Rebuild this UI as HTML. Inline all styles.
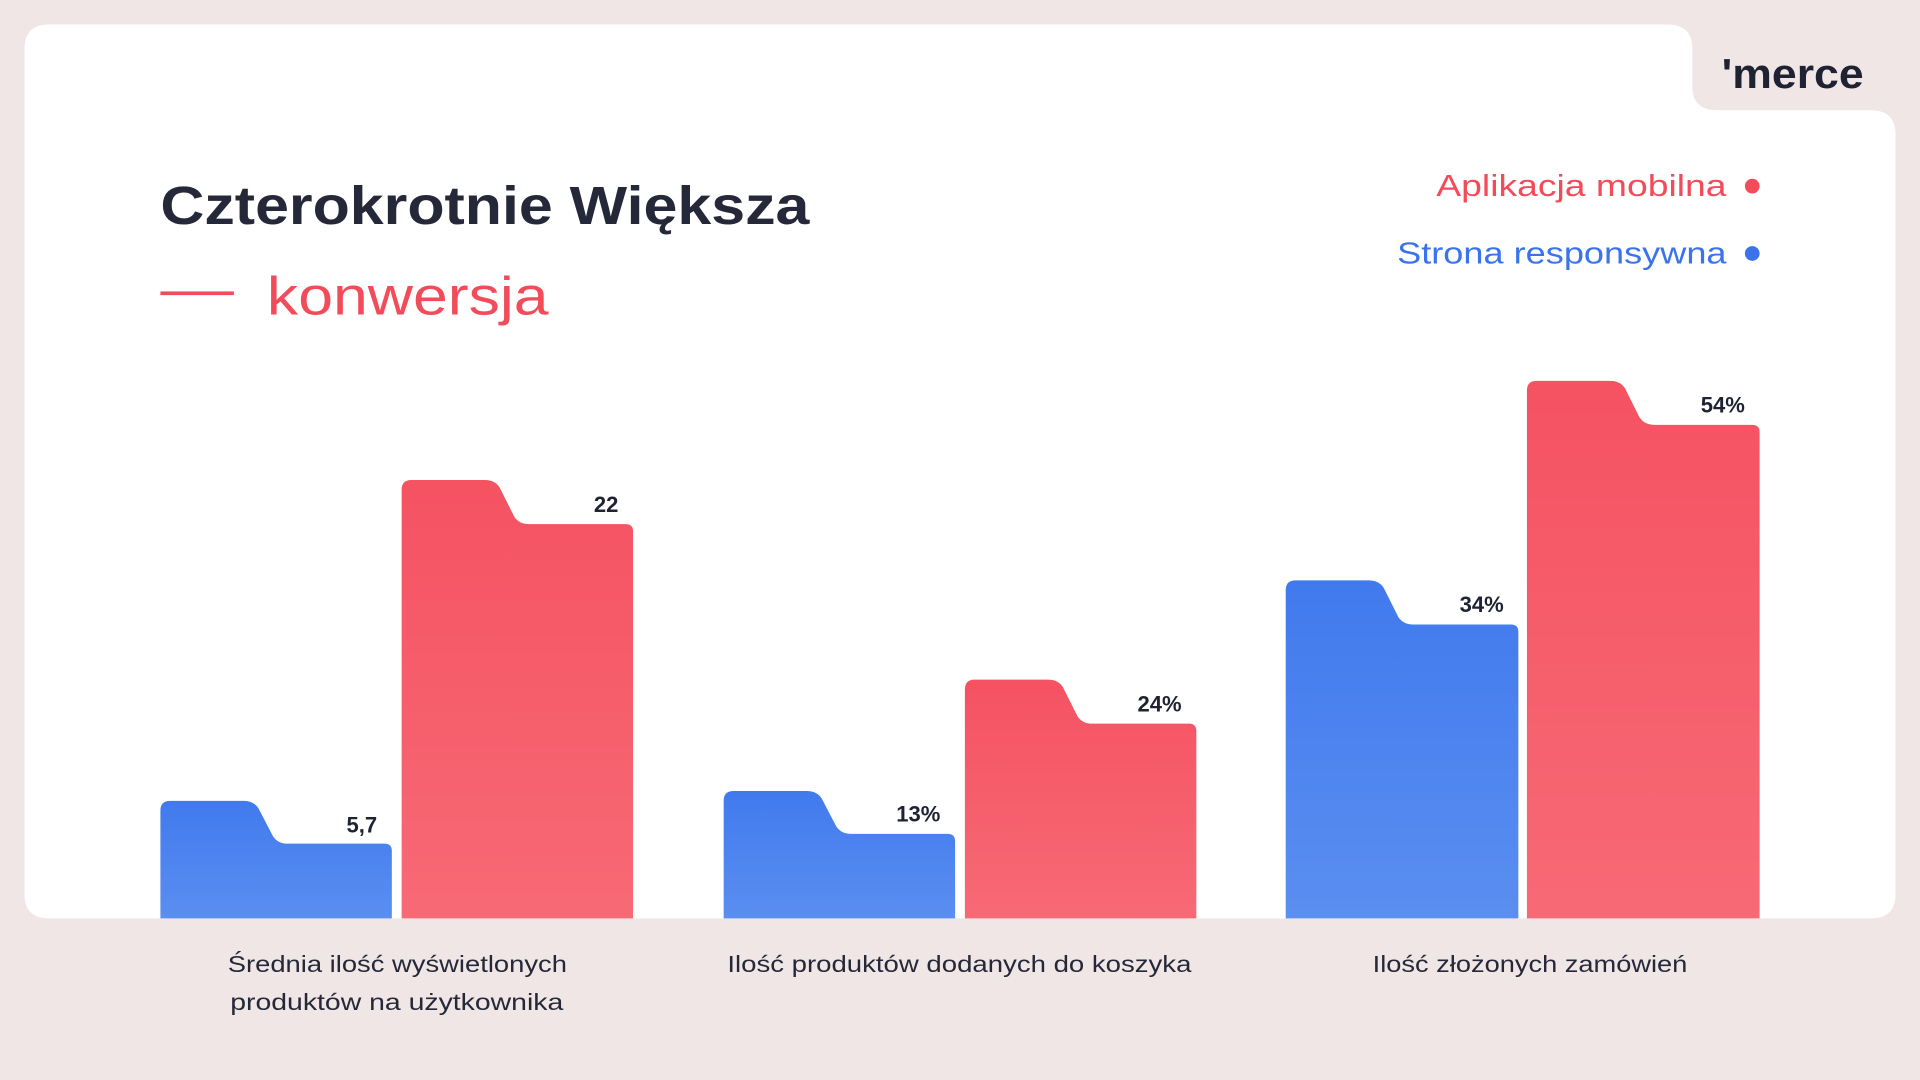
<!DOCTYPE html>
<html><head><meta charset="utf-8"><style>
html,body{margin:0;padding:0;background:#f1e6e6;}
svg{display:block}
text{font-family:"Liberation Sans","DejaVu Sans",sans-serif}
</style></head><body>
<svg width="1920" height="1080" viewBox="0 0 1568 882" xmlns="http://www.w3.org/2000/svg">
<defs>
<linearGradient id="r" x1="0" y1="0" x2="0" y2="1"><stop offset="0" stop-color="#f55262"/><stop offset="1" stop-color="#f76a75"/></linearGradient>
<linearGradient id="b" x1="0" y1="0" x2="0" y2="1"><stop offset="0" stop-color="#417aee"/><stop offset="1" stop-color="#5a8ef0"/></linearGradient>
</defs>
<rect width="1568" height="882" fill="#f1e6e6"/>
<path d="M40,20 H1362 Q1382,20 1382,40 V70 Q1382,90 1402,90 H1528 Q1548,90 1548,110 V730 Q1548,750 1528,750 H40 Q20,750 20,730 V40 Q20,20 40,20 Z" fill="#fff"/>
<text x="1406" y="72" font-size="34" font-weight="bold" fill="#1f2233" textLength="116" lengthAdjust="spacingAndGlyphs">'merce</text>
<text x="131" y="183" font-size="44" font-weight="bold" fill="#252838" textLength="530" lengthAdjust="spacingAndGlyphs">Czterokrotnie Większa</text>
<rect x="131" y="238" width="60" height="3" fill="#f24c5b"/>
<text x="218" y="257" font-size="44" fill="#f24c5b" textLength="230" lengthAdjust="spacingAndGlyphs">konwersja</text>
<text x="1173" y="160" font-size="25" fill="#f24c5b" textLength="237" lengthAdjust="spacingAndGlyphs">Aplikacja mobilna</text>
<circle cx="1431" cy="152" r="6" fill="#f24c5b"/>
<text x="1141" y="215" font-size="25" fill="#3a73ec" textLength="269" lengthAdjust="spacingAndGlyphs">Strona responsywna</text>
<circle cx="1431" cy="207" r="6" fill="#3a73ec"/>
<path d="M131,750 V662 Q131,654 139,654 H199 Q207,654 211,660 L223,683 Q227,689 235,689 H314 Q320,689 320,695 V750 Z" fill="url(#b)"/>
<path d="M328,750 V400 Q328,392 336,392 H396 Q404,392 408,398 L420,422 Q424,428 432,428 H511 Q517,428 517,434 V750 Z" fill="url(#r)"/>
<path d="M591,750 V654 Q591,646 599,646 H659 Q667,646 671,652 L683,675 Q687,681 695,681 H774 Q780,681 780,687 V750 Z" fill="url(#b)"/>
<path d="M788,750 V563 Q788,555 796,555 H856 Q864,555 868,561 L880,585 Q884,591 892,591 H971 Q977,591 977,597 V750 Z" fill="url(#r)"/>
<path d="M1050,750 V482 Q1050,474 1058,474 H1118 Q1126,474 1130,480 L1142,504 Q1146,510 1154,510 H1234 Q1240,510 1240,516 V750 Z" fill="url(#b)"/>
<path d="M1247,750 V319 Q1247,311 1255,311 H1315 Q1323,311 1327,317 L1339,341 Q1343,347 1351,347 H1431 Q1437,347 1437,353 V750 Z" fill="url(#r)"/>
<g font-size="18" font-weight="bold" fill="#1f2233" text-anchor="end">
<text x="308" y="680">5,7</text>
<text x="505" y="418">22</text>
<text x="768" y="671">13%</text>
<text x="965" y="581">24%</text>
<text x="1228" y="500">34%</text>
<text x="1425" y="337">54%</text>
</g>
<g font-size="19" fill="#252838">
<text x="186" y="794" textLength="277" lengthAdjust="spacingAndGlyphs">Średnia ilość wyświetlonych</text>
<text x="188" y="825" textLength="272" lengthAdjust="spacingAndGlyphs">produktów na użytkownika</text>
<text x="594" y="794" textLength="379" lengthAdjust="spacingAndGlyphs">Ilość produktów dodanych do koszyka</text>
<text x="1121" y="794" textLength="257" lengthAdjust="spacingAndGlyphs">Ilość złożonych zamówień</text>
</g>
</svg>
</body></html>
